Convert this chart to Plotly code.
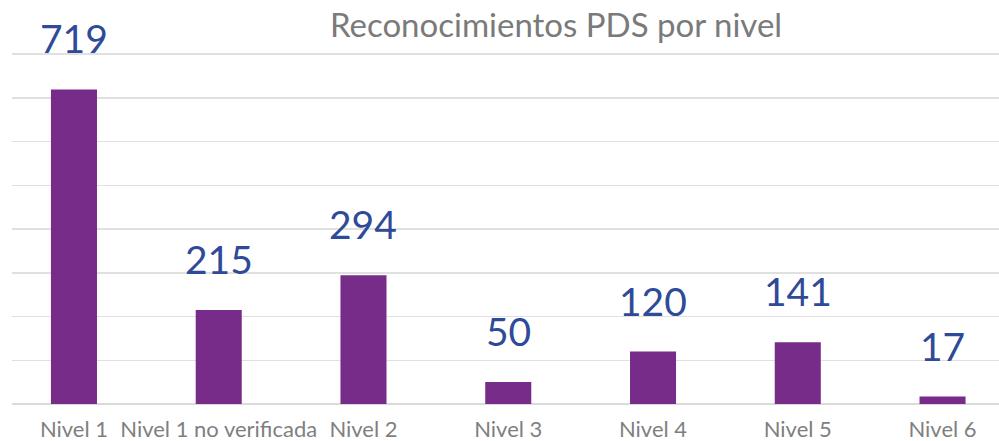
import plotly.graph_objects as go

categories = ["Nivel 1", "Nivel 1 no verificada", "Nivel 2", "Nivel 3", "Nivel 4", "Nivel 5", "Nivel 6"]
values = [719, 215, 294, 50, 120, 141, 17]

BAR_COLOR = "#762C88"
LABEL_COLOR = "#2E4A98"
FONT = "Lato, 'Open Sans', sans-serif"

fig = go.Figure()
fig.add_trace(go.Bar(
    x=list(range(len(categories))),
    y=values,
    marker=dict(color=BAR_COLOR, line=dict(width=0)),
    width=0.318,
    hoverinfo="skip",
))

for i, v in enumerate(values):
    fig.add_annotation(
        x=i, y=v, text=str(v), showarrow=False,
        yshift=51, yanchor="middle", xanchor="center",
        font=dict(family=FONT, size=39, color=LABEL_COLOR),
    )

fig.update_layout(
    width=999, height=441,
    margin=dict(l=12, r=0, t=45, b=37),
    paper_bgcolor="white", plot_bgcolor="white",
    showlegend=False,
    title=dict(
        text="Reconocimientos PDS por nivel",
        x=556 / 999, xanchor="center", y=1 - 25 / 441, yanchor="middle",
        font=dict(family=FONT, size=33, color="#7A7A7A"),
    ),
    xaxis=dict(
        tickmode="array", tickvals=list(range(len(categories))), ticktext=categories,
        range=[-0.428, 6.39], showgrid=False, zeroline=False, showline=False,
        ticks="", ticklabelstandoff=10,
        tickfont=dict(family=FONT, size=22, color="#7F7F7F"),
        fixedrange=True,
    ),
    yaxis=dict(
        range=[0, 820.57], dtick=100, showgrid=True, gridcolor="#E0E0E0", gridwidth=1.5,
        zeroline=True, zerolinecolor="#DADADA", zerolinewidth=1.5,
        showticklabels=False, ticks="", fixedrange=True,
    ),
)

fig.write_html(
    "out.html",
    config={"displayModeBar": False, "staticPlot": True},
    post_script="document.body.style.margin='0';",
)
